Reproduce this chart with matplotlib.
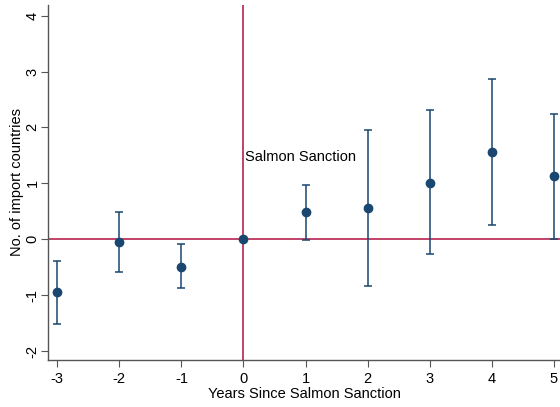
import matplotlib.pyplot as plt
import numpy as np

plt.rcParams['font.family'] = ['Liberation Sans', 'DejaVu Sans']
plt.rcParams['axes.unicode_minus'] = False

years = [-3, -2, -1, 0, 1, 2, 3, 4, 5]
coef = [-0.95, -0.05, -0.50, 0.0, 0.48, 0.56, 1.01, 1.56, 1.13]
ci_low = [-1.52, -0.58, -0.88, 0.0, -0.02, -0.84, -0.27, 0.25, 0.01]
ci_high = [-0.39, 0.49, -0.09, 0.0, 0.97, 1.96, 2.31, 2.87, 2.24]

navy = '#1a476f'
red = '#b01040'

fig = plt.figure(figsize=(5.6, 4.07), dpi=100)
ax = fig.add_axes([0.0857, 0.1155, 0.9143, 0.8722])

c = np.array(coef)
err = [c - np.array(ci_low), np.array(ci_high) - c]
ax.axhline(0, color=red, lw=1.1, zorder=1)
ax.axvline(0, color=red, lw=1.1, zorder=1)
ax.errorbar(years, coef, yerr=err, fmt='o', color=navy, ms=6,
            elinewidth=1.1, capsize=3, capthick=1.1, zorder=3)

ax.text(0.03, 1.47, 'Salmon Sanction', fontsize=10.5, va='center', ha='left')

ax.set_xlim(-3.15, 5.1)
ax.set_ylim(-2.16, 4.19)
ax.set_xticks(years)
ax.set_yticks(range(-2, 5))
ax.tick_params(axis='y', labelrotation=90, length=5, pad=1, colors='#555555', labelcolor='black', labelsize=10.5)
ax.tick_params(axis='x', length=5, colors='#555555', labelcolor='black', labelsize=10.5)
for lab in ax.get_yticklabels():
    lab.set_va('center')

ax.set_xlabel('Years Since Salmon Sanction', fontsize=10.5, labelpad=1)
ax.set_ylabel('No. of import countries', fontsize=10.5, va='center')
ax.yaxis.set_label_coords(-0.06, 0.5)

for s in ['top', 'right']:
    ax.spines[s].set_visible(False)
for s in ['left', 'bottom']:
    ax.spines[s].set_color('#555555')
    ax.spines[s].set_linewidth(1.0)

fig.savefig('out.png', dpi=100)
